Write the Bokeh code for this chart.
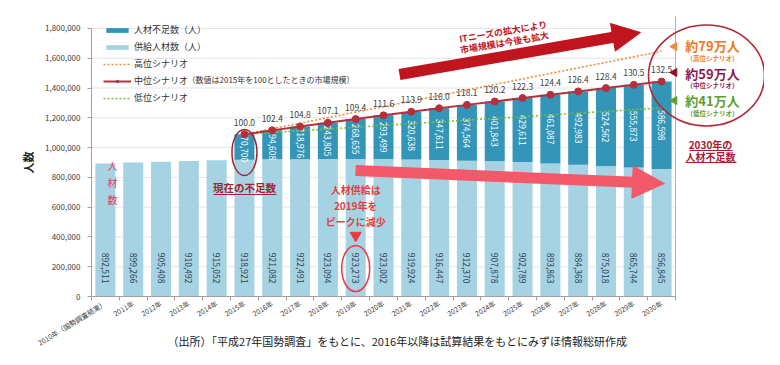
import math
from bokeh.plotting import figure
from bokeh.models import (ColumnDataSource, Range1d, FixedTicker, NumeralTickFormatter,
                          Legend, LegendItem, Label, Arrow, NormalHead)
from bokeh.core.properties import value
from bokeh.embed import file_html
from bokeh.resources import INLINE

# ---------------- data ----------------
years = ["2010年（国勢調査結果）", "2011年", "2012年", "2013年", "2014年", "2015年",
         "2016年", "2017年", "2018年", "2019年", "2020年", "2021年", "2022年",
         "2023年", "2024年", "2025年", "2026年", "2027年", "2028年", "2029年", "2030年"]
supply = [892511, 899266, 905408, 910492, 915052, 918921, 921082, 922491, 923094,
          923273, 923002, 919924, 916447, 912370, 907878, 902789, 893863, 884368,
          875018, 865744, 856845]
shortage_years = ["2015年", "2016年", "2017年", "2018年", "2019年", "2020年", "2021年",
                  "2022年", "2023年", "2024年", "2025年", "2026年", "2027年", "2028年",
                  "2029年", "2030年"]
shortage = [170700, 194608, 218976, 243805, 268655, 293499, 320638, 347611, 374564,
            401843, 429611, 461087, 492983, 524562, 555873, 586598]
market_index = [100.0, 102.4, 104.8, 107.1, 109.4, 111.6, 113.9, 116.0, 118.1, 120.2,
                122.3, 124.4, 126.4, 128.4, 130.5, 132.5]
scenario_years = ["2015年", "2030年"]
high_shortage_2030 = 790000   # 約79万人
low_shortage_2030 = 410000    # 約41万人
y_ticks = [0, 200000, 400000, 600000, 800000, 1000000, 1200000, 1400000, 1600000, 1800000]

FONT = "Noto Sans CJK JP"
LIGHT = "#A6D3E3"
DARK = "#3396B8"
MID = "#B5303C"
ORANGE = "#EF8A3C"
GREEN = "#7DBA3A"
RED = "#C0141E"
PINK = "#F25A6A"
BRIGHT = "#EC3A44"

# helpers mapping reference-picture pixels to data space (annotations only)
def X(px):
    return -0.5 + (px - 99) / 27.81

def Y(py):
    return (304 - py) / 148.9 * 1e6

xs = list(range(len(years)))
sx = [years.index(y) for y in shortage_years]
s_bottom = [supply[i] for i in sx]
s_top = [b + s for b, s in zip(s_bottom, shortage)]
s_mid = [b + s / 2 for b, s in zip(s_bottom, shortage)]

p = figure(width=764, height=349, x_range=Range1d(X(8), X(772)), y_range=Range1d(Y(357), Y(8)),
           output_backend="svg", toolbar_location=None,
           min_border_left=0, min_border_right=0, min_border_top=0, min_border_bottom=0)
p.outline_line_color = None
p.xgrid.visible = False
p.ygrid.visible = False
p.background_fill_color = "white"

# gridlines and right border
p.segment(x0=[-0.5] * (len(y_ticks) - 1), x1=[20.5] * (len(y_ticks) - 1),
          y0=y_ticks[1:], y1=y_ticks[1:], line_color="#dedede", line_width=0.8)
p.segment(x0=[20.5], x1=[20.5], y0=[0], y1=[Y(24)], line_color="#b0b0b0", line_width=1)

# bars
src_sup = ColumnDataSource(dict(x=xs, top=supply, label=[f"{v:,}" for v in supply]))
r_sup = p.vbar(x="x", top="top", bottom=0, width=0.72, fill_color=LIGHT, line_color=None,
               source=src_sup)
src_sh = ColumnDataSource(dict(x=sx, bottom=s_bottom, top=s_top, mid=s_mid,
                               label=[f"{v:,}" for v in shortage],
                               idx=[f"{v:.1f}" for v in market_index]))
r_short = p.vbar(x="x", top="top", bottom="bottom", width=0.72, fill_color=DARK,
                 line_color=None, source=src_sh)

p.text(x="x", y=0, text="label", source=src_sup, angle=-math.pi / 2, text_align="right",
       text_baseline="middle", y_offset=-13, text_font=value(FONT), text_font_size="8.5px",
       text_color="#2c3e50")
p.text(x="x", y="mid", text="label", source=src_sh, angle=-math.pi / 2, text_align="center",
       text_baseline="middle", text_font=value(FONT), text_font_size="8.5px",
       text_color="white")

# scenarios
sc_x = [years.index(y) for y in scenario_years]
start_total = s_top[0]
r_high = p.line(x=sc_x, y=[start_total, supply[-1] + high_shortage_2030], line_color=ORANGE,
                line_width=1.6, line_dash="2 2")
r_low = p.line(x=sc_x, y=[start_total, supply[-1] + low_shortage_2030], line_color=GREEN,
               line_width=1.6, line_dash="2 2")
r_mid = p.line(x="x", y="top", source=src_sh, line_color=MID, line_width=2)
r_mid_pts = p.scatter(x="x", y="top", source=src_sh, size=7, fill_color=MID, line_color=MID)
p.text(x="x", y="top", text="idx", source=src_sh, text_align="center",
       text_baseline="middle", y_offset=-12, text_font=value(FONT),
       text_font_size="8.5px", text_color="#404040")

# axes (drawn at fixed locations inside the frame)
p.xaxis.fixed_location = 0
p.xaxis.ticker = FixedTicker(ticks=xs, minor_ticks=[i - 0.5 for i in range(len(years) + 1)])
p.xaxis.major_label_overrides = {i: lab for i, lab in enumerate(years)}
p.xaxis.major_label_orientation = 0.55
p.xaxis.bounds = (-0.5, 20.5)
p.xaxis.major_tick_out = 0
p.xaxis.major_tick_in = 0
p.xaxis.minor_tick_out = 4
p.xaxis.minor_tick_in = 0
p.xaxis.minor_tick_line_color = "#a0a0a0"
p.xaxis.axis_line_color = "#a0a0a0"
p.xaxis.major_label_standoff = 2
p.xaxis.major_label_text_font = FONT
p.xaxis.major_label_text_font_size = "7px"
p.xaxis.major_label_text_color = "#404040"

p.yaxis.fixed_location = -0.5
p.yaxis.ticker = FixedTicker(ticks=y_ticks)
p.yaxis.formatter = NumeralTickFormatter(format="0,0")
p.yaxis.bounds = (0, 1800000)
p.yaxis.major_tick_out = 4
p.yaxis.major_tick_in = 0
p.yaxis.minor_tick_line_color = None
p.yaxis.axis_line_color = "#a0a0a0"
p.yaxis.major_tick_line_color = "#a0a0a0"
p.yaxis.major_label_text_font = FONT
p.yaxis.major_label_text_font_size = "8px"
p.yaxis.major_label_text_color = "#404040"
p.yaxis.major_label_standoff = 7
p.yaxis.axis_label = "人数"
p.yaxis.axis_label_text_font = FONT
p.yaxis.axis_label_text_font_size = "11px"
p.yaxis.axis_label_text_font_style = "bold"
p.yaxis.axis_label_text_color = "#222222"
p.yaxis.axis_label_standoff = 6

# legend
legend = Legend(items=[
    LegendItem(label="人材不足数（人）", renderers=[r_short]),
    LegendItem(label="供給人材数（人）", renderers=[r_sup]),
    LegendItem(label="高位シナリオ", renderers=[r_high]),
    LegendItem(label="中位シナリオ", renderers=[r_mid, r_mid_pts]),
    LegendItem(label="低位シナリオ", renderers=[r_low]),
], location=(103, 245), glyph_width=28, glyph_height=6, label_height=11, spacing=4,
    padding=2, margin=0, label_standoff=3, border_line_color=None,
    background_fill_alpha=0.0,
    label_text_font=FONT, label_text_font_size="9px", label_text_color="#333333")
p.add_layout(legend)

def lab(x, y, text, size, color, bold=False, align="center", angle=0.0, line_height=1.2):
    p.add_layout(Label(x=x, y=y, text=text, text_font=FONT, text_font_size=size,
                       text_color=color, text_font_style="bold" if bold else "normal",
                       text_align=align, text_baseline="middle", angle=angle,
                       text_line_height=line_height))

lab(X(195), Y(87), "（数値は2015年を100としたときの市場規模）", "8px", "#333333",
    align="left")

# big market arrow
p.add_layout(Arrow(x_start=X(407), y_start=Y(82), x_end=X(648), y_end=Y(40),
                   line_color=RED, line_width=11,
                   end=NormalHead(size=28, fill_color=RED, line_color=RED)))
lab(X(511), Y(39), "ITニーズの拡大により", "9px", RED, bold=True, angle=0.17)
lab(X(512), Y(50), "市場規模は今後も拡大", "9px", RED, bold=True, angle=0.17)

# supply decreasing arrow
p.add_layout(Arrow(x_start=X(363), y_start=Y(178), x_end=X(672), y_end=Y(191),
                   line_color=PINK, line_width=11,
                   end=NormalHead(size=32, fill_color=PINK, line_color=PINK)))

# 2015 annotation
p.ellipse(x=[years.index("2015年")], y=[Y(160)], width=25, height=46, width_units="screen",
          height_units="screen", fill_alpha=0, line_color="#A8202E", line_width=1.5)
lab(years.index("2015年"), Y(195), "現在の不足数", "10.5px", "#A8202E", bold=True)
p.segment(x0=[X(221)], x1=[X(284)], y0=[Y(202)], y1=[Y(202)], line_color="#A8202E",
          line_width=1)

lab(X(120), Y(190), "人\n材\n数", "10px", BRIGHT, line_height=1.15)

# 2019 annotation
i2019 = years.index("2019年")
lab(i2019, Y(213), "人材供給は\n2019年を\nピークに減少", "10px", BRIGHT, bold=True,
    line_height=1.05)
p.scatter(x=[i2019], y=[Y(243)], marker="inverted_triangle", size=11, fill_color=BRIGHT,
          line_color=BRIGHT)
p.ellipse(x=[i2019], y=[Y(276)], width=28, height=46, width_units="screen",
          height_units="screen", fill_alpha=0, line_color=BRIGHT, line_width=1.5)

# right-hand annotation
p.ellipse(x=[X(714)], y=[Y(83)], width=116, height=101, width_units="screen",
          height_units="screen", fill_alpha=0, line_color="#B02838", line_width=1.6)
p.scatter(x=[X(682)] * 3, y=[Y(54), Y(80), Y(108)], marker="triangle", angle=math.pi / 2,
          size=8, fill_color=[ORANGE, "#8E1020", "#5E9E2E"],
          line_color=[ORANGE, "#8E1020", "#5E9E2E"])
lab(X(720), Y(53), "約79万人", "13px", "#EE7A1E", bold=True)
lab(X(720), Y(65), "（高位シナリオ）", "6.5px", "#EE7A1E", bold=True)
lab(X(720), Y(81), "約59万人", "13px", "#8C1C4C", bold=True)
lab(X(720), Y(92), "（中位シナリオ）", "6.5px", "#8C1C4C", bold=True)
lab(X(720), Y(108), "約41万人", "13px", "#5E9E2E", bold=True)
lab(X(720), Y(120), "（低位シナリオ）", "6.5px", "#5E9E2E", bold=True)

lab(X(718), Y(152), "2030年の", "10px", "#A8202E", bold=True)
lab(X(718), Y(164), "人材不足数", "10px", "#A8202E", bold=True)
p.segment(x0=[X(697), X(693)], x1=[X(740), X(744)], y0=[Y(158), Y(170)],
          y1=[Y(158), Y(170)], line_color="#A8202E", line_width=1)

# footnote
lab(X(405), Y(348), "（出所）「平成27年国勢調査」をもとに、2016年以降は試算結果をもとにみずほ情報総研作成",
    "11px", "#222222")

open("out.html", "w").write(file_html(p, INLINE))
